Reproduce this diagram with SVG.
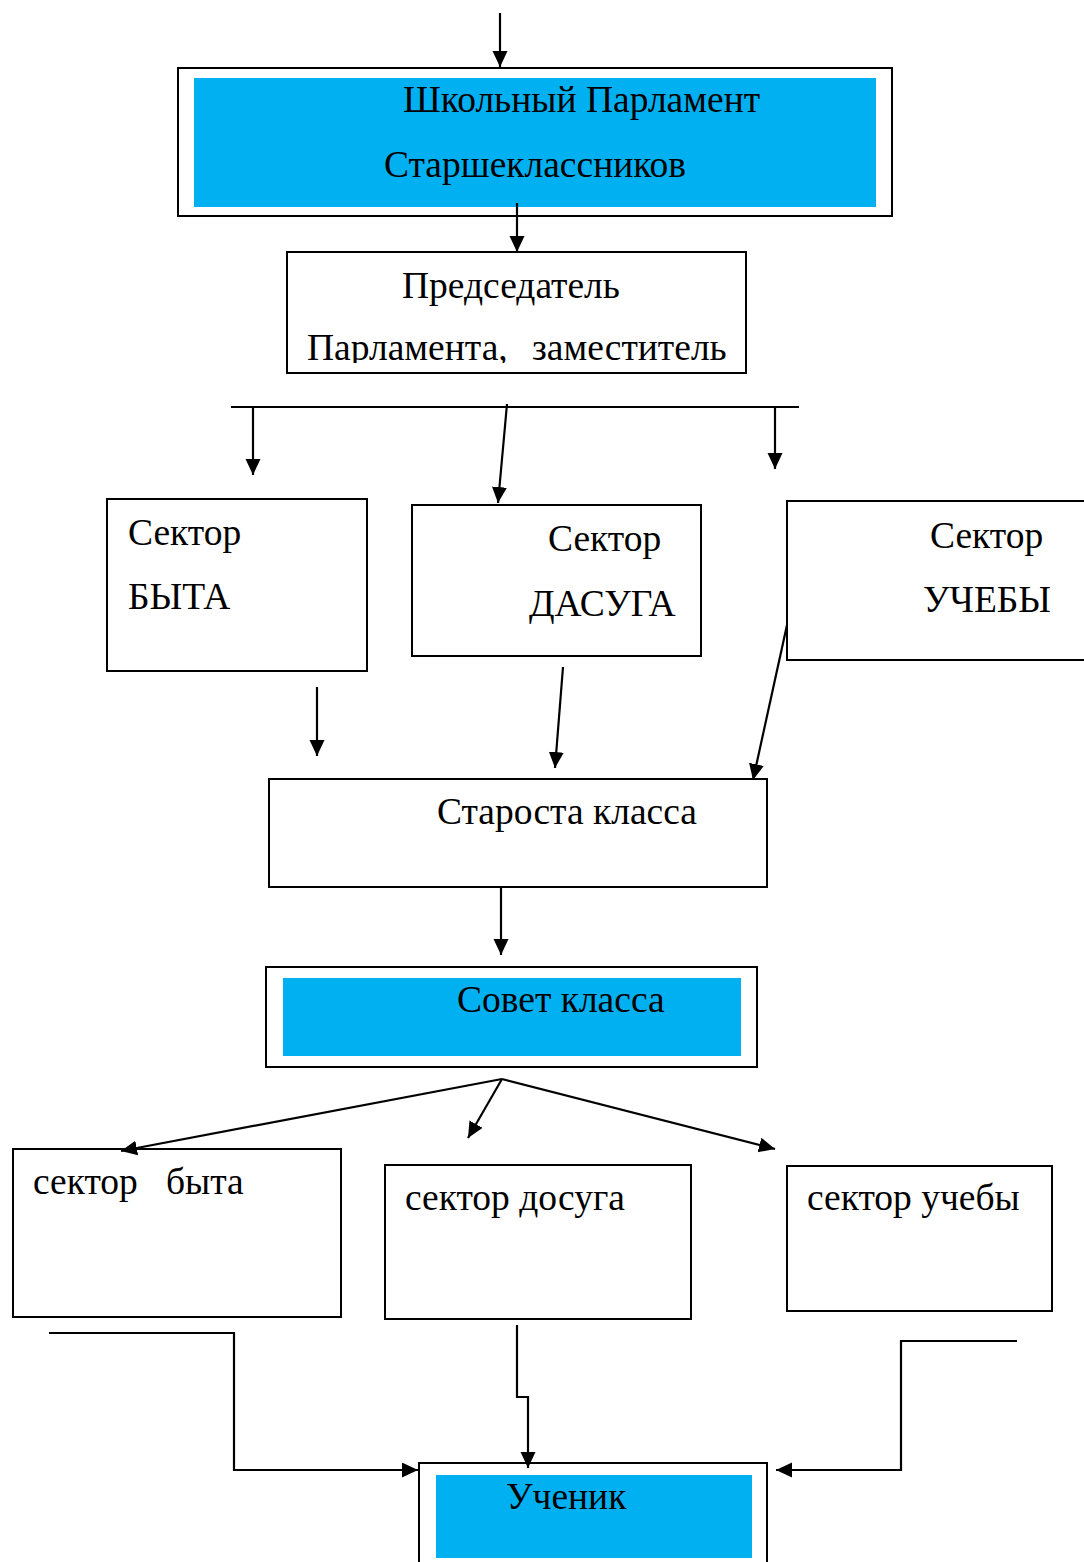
<svg xmlns="http://www.w3.org/2000/svg" width="1084" height="1562" viewBox="0 0 1084 1562">
  <style>
    .box { fill: #ffffff; stroke: #000000; stroke-width: 2; }
    .fill { fill: #00B0F0; stroke: none; }
    .t { font-family: "Liberation Serif", "Times New Roman", serif; font-size: 37.5px; fill: #000000; white-space: pre; }
    .c { fill: none; stroke: #000000; stroke-width: 2.2; }
  </style>
  <defs>
    <marker id="arr" markerUnits="userSpaceOnUse" markerWidth="18" markerHeight="18" refX="16" refY="7.5" orient="auto">
      <path d="M0,0 L16,7.5 L0,15 z" fill="#000000"/>
    </marker>
    <clipPath id="clipPred">
      <rect x="287" y="252" width="459" height="111"/>
    </clipPath>
  </defs>
  <rect width="1084" height="1562" fill="#ffffff"/>

  <g id="parliament">
    <rect class="box" x="178" y="68" width="714" height="148"/>
    <rect class="fill" x="194" y="78" width="682" height="129"/>
    <text class="t" x="403" y="112">Школьный Парламент</text>
    <text class="t" x="384" y="177">Старшеклассников</text>
  </g>

  <g id="chairman">
    <rect class="box" x="287" y="252" width="459" height="121"/>
    <text class="t" x="402" y="298">Председатель</text>
    <text class="t" y="360" clip-path="url(#clipPred)"><tspan x="307">Парламента,</tspan><tspan x="532">заместитель</tspan></text>
  </g>

  <g id="sector-byta">
    <rect class="box" x="107" y="499" width="260" height="172"/>
    <text class="t" x="128" y="545">Сектор</text>
    <text class="t" x="128" y="609">БЫТА</text>
  </g>

  <g id="sector-dasuga">
    <rect class="box" x="412" y="505" width="289" height="151"/>
    <text class="t" x="548" y="551">Сектор</text>
    <text class="t" x="529" y="616">ДАСУГА</text>
  </g>

  <g id="sector-uchoby">
    <rect class="box" x="787" y="501" width="320" height="159"/>
    <text class="t" x="930" y="548">Сектор</text>
    <text class="t" x="923" y="612">УЧЕБЫ</text>
  </g>

  <g id="starosta">
    <rect class="box" x="269" y="779" width="498" height="108"/>
    <text class="t" x="437" y="824">Староста класса</text>
  </g>

  <g id="sovet">
    <rect class="box" x="266" y="967" width="491" height="100"/>
    <rect class="fill" x="283" y="978" width="458" height="78"/>
    <text class="t" x="457" y="1012">Совет класса</text>
  </g>

  <g id="class-byta">
    <rect class="box" x="13" y="1149" width="328" height="168"/>
    <text class="t" x="33" y="1194">сектор   быта</text>
  </g>

  <g id="class-dosuga">
    <rect class="box" x="385" y="1165" width="306" height="154"/>
    <text class="t" x="405" y="1210">сектор досуга</text>
  </g>

  <g id="class-ucheby">
    <rect class="box" x="787" y="1166" width="265" height="145"/>
    <text class="t" x="807" y="1210">сектор учебы</text>
  </g>

  <g id="uchenik">
    <rect class="box" x="419" y="1463" width="348" height="130"/>
    <rect class="fill" x="436" y="1475" width="316" height="83"/>
    <text class="t" x="506" y="1509">Ученик</text>
  </g>

  <g id="connectors">
    <line class="c" x1="500" y1="13" x2="500" y2="67" marker-end="url(#arr)"/>
    <line class="c" x1="517" y1="203" x2="517" y2="252" marker-end="url(#arr)"/>
    <line class="c" x1="231" y1="407" x2="799" y2="407"/>
    <line class="c" x1="253" y1="407" x2="253" y2="475" marker-end="url(#arr)"/>
    <line class="c" x1="507" y1="404" x2="498" y2="503" marker-end="url(#arr)"/>
    <line class="c" x1="775" y1="407" x2="775" y2="469" marker-end="url(#arr)"/>
    <line class="c" x1="317" y1="687" x2="317" y2="756" marker-end="url(#arr)"/>
    <line class="c" x1="563" y1="667" x2="555" y2="768" marker-end="url(#arr)"/>
    <line class="c" x1="787" y1="625" x2="753" y2="780" marker-end="url(#arr)"/>
    <line class="c" x1="501" y1="886" x2="501" y2="955" marker-end="url(#arr)"/>
    <line class="c" x1="502" y1="1079" x2="121" y2="1151" marker-end="url(#arr)"/>
    <line class="c" x1="502" y1="1079" x2="468" y2="1138" marker-end="url(#arr)"/>
    <line class="c" x1="502" y1="1079" x2="775" y2="1149" marker-end="url(#arr)"/>
    <polyline class="c" points="49,1333 234,1333 234,1470 418,1470" marker-end="url(#arr)"/>
    <polyline class="c" points="517,1325 517,1397 528,1397 528,1468" marker-end="url(#arr)"/>
    <polyline class="c" points="1017,1341 901,1341 901,1470 776,1470" marker-end="url(#arr)"/>
  </g>
</svg>
